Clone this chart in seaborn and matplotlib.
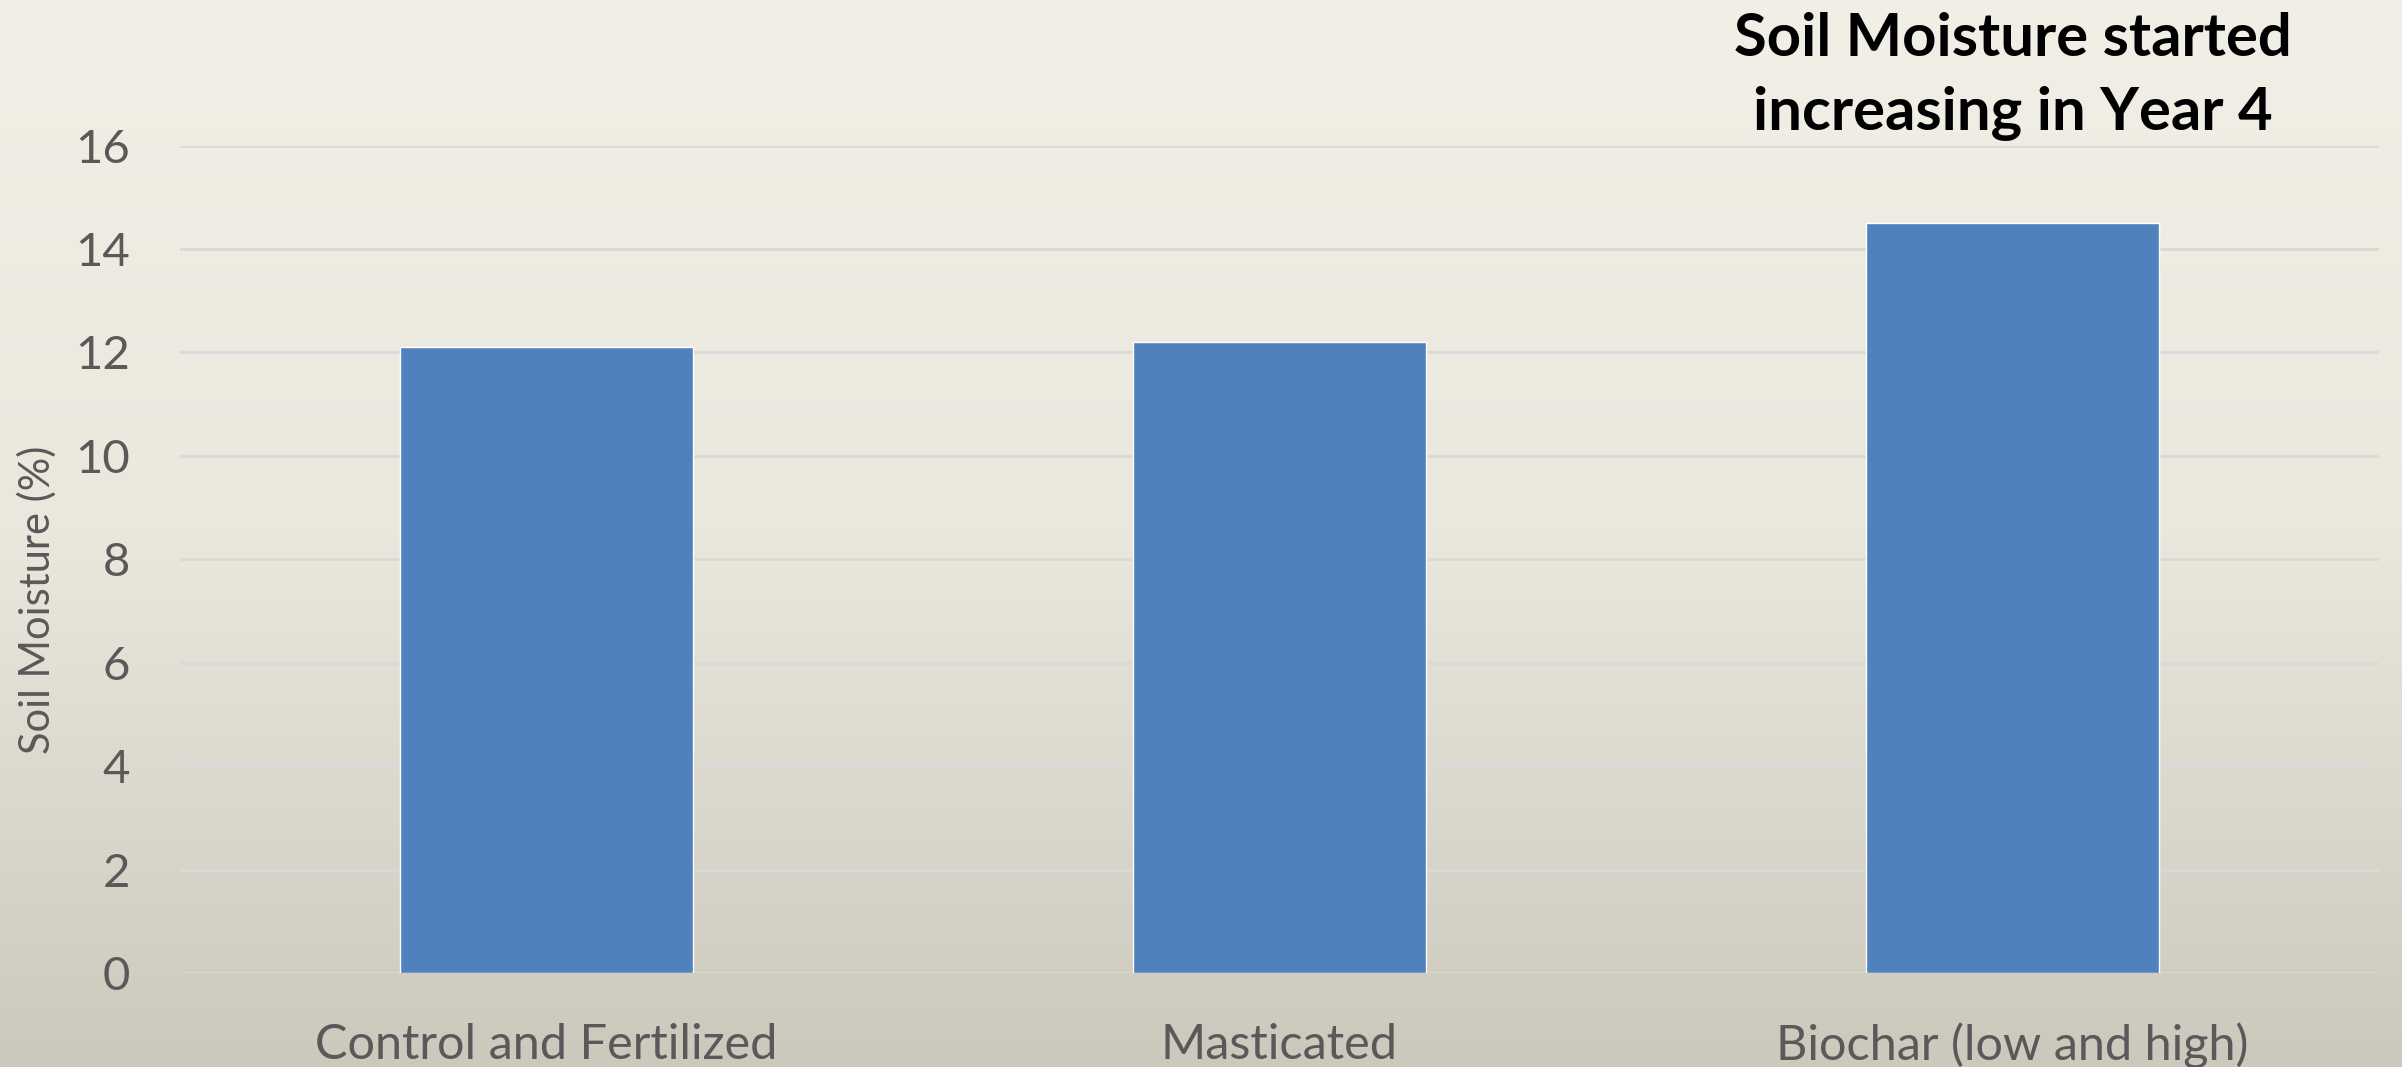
import numpy as np
import pandas as pd
import matplotlib
matplotlib.use("Agg")
import matplotlib.pyplot as plt
import seaborn as sns
from matplotlib.colors import LinearSegmentedColormap

categories = ["Control and Fertilized", "Masticated", "Biochar (low and high)"]
soil_moisture = [12.1, 12.2, 14.5]
y_ticks = [0, 2, 4, 6, 8, 10, 12, 14, 16]
title_text = "Soil Moisture started\nincreasing in Year 4"
y_label = "Soil Moisture (%)"

df = pd.DataFrame({"category": categories, "value": soil_moisture})

sns.set_theme(style="white")
plt.rcParams["font.family"] = ["Lato", "DejaVu Sans"]

fig = plt.figure(figsize=(24.02, 10.67), dpi=100)

# gradient background
bg = fig.add_axes([0, 0, 1, 1], zorder=-10)
cmap = LinearSegmentedColormap.from_list("bg", ["#F2F0E6", "#EAE7DD", "#CCC8BC"])
grad = np.linspace(0, 1, 256).reshape(-1, 1)
bg.imshow(grad, aspect="auto", cmap=cmap, extent=[0, 1, 0, 1], origin="upper")
bg.set_axis_off()

ax = fig.add_axes([0.0749, 0.0881, 0.9155, 0.7754])
ax.set_facecolor("none")
sns.barplot(data=df, x="category", y="value", color="#4F81BD", saturation=1,
            width=0.4, ax=ax, zorder=3)
ax.set_xlim(-0.5, 2.5)
ax.set_ylim(0, 16)
ax.set_yticks(y_ticks)
ax.yaxis.grid(True, color="#D9D9D9", linewidth=2, zorder=0)
ax.set_axisbelow(True)
for s in ax.spines.values():
    s.set_visible(False)
ax.tick_params(axis="y", length=0, pad=36, labelsize=34, labelcolor="#595959")
ax.tick_params(axis="x", length=0, pad=36, labelsize=35, labelcolor="#595959")
ax.set_xlabel("")
ax.set_ylabel(y_label, fontsize=30, color="#595959")
ax.yaxis.set_label_coords(-0.056, 0.451)

fig.text(0.8378, 0.928, title_text, ha="center", va="center", fontsize=43,
         fontweight="bold", color="black", linespacing=1.45)

fig.savefig("out.png", dpi=100)
